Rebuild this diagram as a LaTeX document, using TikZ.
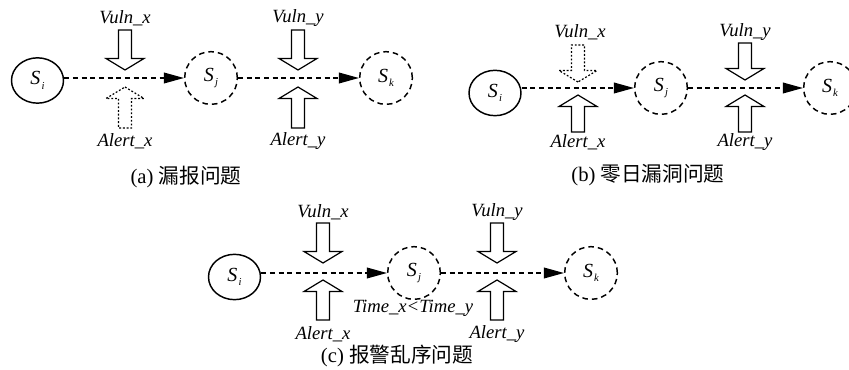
\documentclass[tikz,border=0pt]{standalone}
\usepackage{fontspec}
\setmainfont{Liberation Serif}
\newfontfamily\cjk{Noto Sans CJK SC}
\usetikzlibrary{arrows.meta,shapes.geometric}

% italic state name with a small subscript
\newcommand\stname[1]{\fontsize{15}{15}\selectfont\itshape S\kern0.8pt\raisebox{-0.5ex}{\fontsize{8}{8}\selectfont #1}}

\begin{document}
\begin{tikzpicture}[x=0.75pt,y=-0.75pt,
  init/.style={draw, line width=1.1pt, ellipse, minimum width=39pt, minimum height=34pt, inner sep=0pt},
  future/.style={draw, line width=1.1pt, circle, dash pattern=on 4.2pt off 3pt, minimum size=39.5pt, inner sep=0pt},
  trans/.style={line width=1.1pt, dash pattern=on 3.8pt off 2.7pt, -{Triangle[length=15pt,width=8pt]}},
  lbl/.style={font=\fontsize{14}{14}\selectfont\itshape, inner sep=0pt},
  captext/.style={font=\fontsize{15.5}{15.5}\selectfont, inner sep=0pt},
  solidarr/.style={line width=0.9pt},
  dottedarr/.style={line width=0.9pt, dash pattern=on 1.4pt off 1.4pt},
  pics/blockarrow/.style={code={
    \draw[pic actions] (0,0) -- (19,11.5) -- (6.5,11.5) -- (6.5,#1) -- (-6.5,#1) -- (-6.5,11.5) -- (-19,11.5) -- cycle;
  }},
]
\path[use as bounding box] (0,0) rectangle (849,370);
\clip (0,0) rectangle (849,370);

% ---------------- (a) missed alert ----------------
\node[init]   (aSi) at (37.5,80.5) {\stname{i}};
\node[future] (aSj) at (211,78) {\stname{j}};
\node[future] (aSk) at (386,78) {\stname{k}};
\draw[trans] (aSi.east |- aSj) -- (aSj.west);
\draw[trans] (aSj.east) -- (aSk.west);
\pic[solidarr, rotate=180] at (125,70) {blockarrow=40};
\pic[dottedarr] at (125,87) {blockarrow=41};
\pic[solidarr, rotate=180] at (298,70) {blockarrow=40};
\pic[solidarr] at (298,87) {blockarrow=41};
\node[lbl] (aVx) at (125,18) {Vuln\_x};
\node[lbl] (aAx) at (125,141) {Alert\_x};
\node[lbl] (aVy) at (298,18) {Vuln\_y};
\node[lbl] (aAy) at (298,141) {Alert\_y};
\node[captext] (acap) at (186,177) {(a) {\cjk 漏报问题}};

% ---------------- (b) zero-day vulnerability ----------------
\node[init]   (bSi) at (495,93) {\stname{i}};
\node[future] (bSj) at (661,88) {\stname{j}};
\node[future] (bSk) at (830,88) {\stname{k}};
\draw[trans] (bSi.east |- bSj) -- (bSj.west);
\draw[trans] (bSj.east) -- (bSk.west);
\pic[dottedarr, rotate=180] at (578,82) {blockarrow=37};
\pic[solidarr] at (578,95) {blockarrow=37};
\pic[solidarr, rotate=180] at (745,80) {blockarrow=37};
\pic[solidarr] at (745,95) {blockarrow=37};
\node[lbl] (bVx) at (580,32) {Vuln\_x};
\node[lbl] (bAx) at (578,142) {Alert\_x};
\node[lbl] (bVy) at (745,32) {Vuln\_y};
\node[lbl] (bAy) at (745,142) {Alert\_y};
\node[captext] (bcap) at (648,175) {(b) {\cjk 零日漏洞问题}};

% ---------------- (c) out-of-order alerts ----------------
\node[init]   (cSi) at (234.5,277) {\stname{i}};
\node[future] (cSj) at (414,273) {\stname{j}};
\node[future] (cSk) at (591,273) {\stname{k}};
\draw[trans] (cSi.east |- cSj) -- (cSj.west);
\draw[trans] (cSj.east) -- (cSk.west);
\pic[solidarr, rotate=180] at (323,263) {blockarrow=40};
\pic[solidarr] at (323,280) {blockarrow=40};
\pic[solidarr, rotate=180] at (497,263) {blockarrow=40};
\pic[solidarr] at (497,280) {blockarrow=40};
\node[lbl] (cVx) at (323,212) {Vuln\_x};
\node[lbl] (cAx) at (323,334) {Alert\_x};
\node[lbl] (cVy) at (497,212) {Vuln\_y};
\node[lbl] (cAy) at (497,334) {Alert\_y};
\node[lbl] (ctime) at (413,308) {Time\_x<Time\_y};
\node[captext] (ccap) at (397,356) {(c) {\cjk 报警乱序问题}};
\end{tikzpicture}
\end{document}
